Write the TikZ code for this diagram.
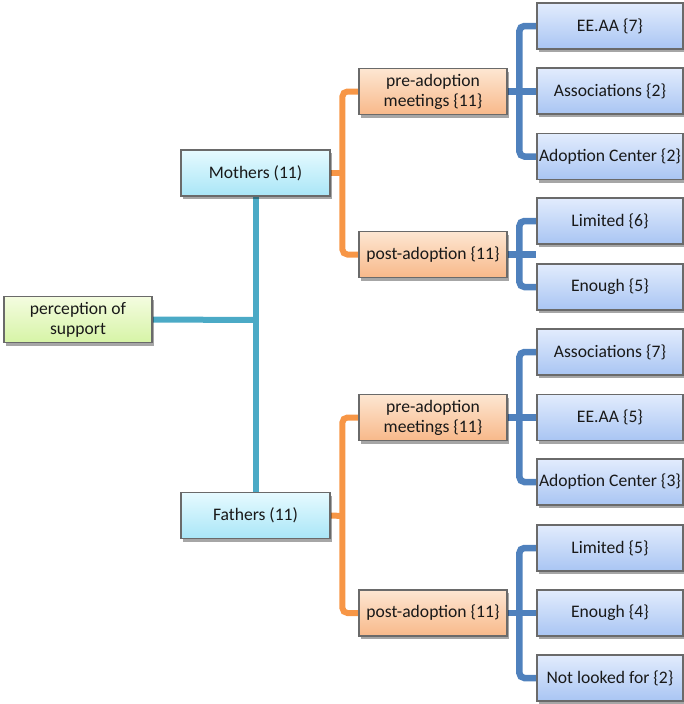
\documentclass[tikz,border=0pt]{standalone}
\usepackage{fontspec}
\setmainfont{Carlito}
\usetikzlibrary{shadows,backgrounds}
\definecolor{boxedge}{HTML}{6A6A6A}
\definecolor{tealline}{HTML}{4BAAC6}
\definecolor{orangeline}{HTML}{F79646}
\definecolor{blueline}{HTML}{4F81BD}
\definecolor{greentop}{HTML}{F4FCE0}
\definecolor{greenbot}{HTML}{D6F4A6}
\definecolor{cyantop}{HTML}{E6FAFF}
\definecolor{cyanbot}{HTML}{A9E6F7}
\definecolor{orangetop}{HTML}{FDE6D2}
\definecolor{orangebot}{HTML}{F8B98A}
\definecolor{bluetop}{HTML}{E2ECFD}
\definecolor{bluebot}{HTML}{A9C5F3}
\tikzset{
  box/.style={draw=boxedge, line width=1.2pt, minimum height=46pt,
    align=center, text=black!90, font=\fontsize{17.6}{20}\selectfont,
    inner sep=0pt,
    drop shadow={shadow xshift=2pt, shadow yshift=-3pt, opacity=0.35, fill=black}},
  rootbox/.style={box, minimum width=148pt, top color=greentop, bottom color=greenbot},
  parentbox/.style={box, minimum width=149pt, top color=cyantop, bottom color=cyanbot},
  phasebox/.style={box, minimum width=148pt, top color=orangetop, bottom color=orangebot},
  leafbox/.style={box, minimum width=146pt, top color=bluetop, bottom color=bluebot},
  tealconn/.style={draw=tealline, line width=6pt},
  orangeconn/.style={draw=orangeline, line width=6pt, rounded corners=5pt},
  blueconn/.style={draw=blueline, line width=6.5pt, rounded corners=5pt},
}
\begin{document}
\begin{tikzpicture}[x=1pt, y=-1pt]
\useasboundingbox (0,0) rectangle (684,704);

% boxes
\node[rootbox]   (root)    at (78,319.5)   {perception of\\support};
\node[parentbox] (mothers) at (255.5,173)  {Mothers (11)};
\node[parentbox] (fathers) at (255.5,515.5){Fathers (11)};

\node[phasebox] (mpre)  at (433,91.5)  {pre-adoption\\meetings \{11\}};
\node[phasebox] (mpost) at (433,254.5) {post-adoption \{11\}};
\node[phasebox] (fpre)  at (433,417.5) {pre-adoption\\meetings \{11\}};
\node[phasebox] (fpost) at (433,613)   {post-adoption \{11\}};

\node[leafbox] (m1) at (610,26)    {EE.AA \{7\}};
\node[leafbox] (m2) at (610,91)    {Associations \{2\}};
\node[leafbox] (m3) at (610,156.5) {Adoption Center \{2\}};
\node[leafbox] (m4) at (610,221)   {Limited \{6\}};
\node[leafbox] (m5) at (610,287)   {Enough \{5\}};

\node[leafbox] (f1) at (610,352)   {Associations \{7\}};
\node[leafbox] (f2) at (610,417.5) {EE.AA \{5\}};
\node[leafbox] (f3) at (610,482)   {Adoption Center \{3\}};
\node[leafbox] (f4) at (610,548)   {Limited \{5\}};
\node[leafbox] (f5) at (610,613)   {Enough \{4\}};
\node[leafbox] (f6) at (610,678)   {Not looked for \{2\}};

% free ends of the short stubs meeting the vertical trunks
\coordinate (mtrunk) at (343,173);
\coordinate (ftrunk) at (343,516);
\coordinate (rtrunk) at (255.5,320);

\begin{pgfonlayer}{background}
% root to parents
\path[tealconn] (mothers.south) -- (fathers.north);
\path[tealconn] (root.east) -- (rtrunk);

% parents to phases
\path[orangeconn] (mpre.west) -- ++(-16,0) |- (mpost.west);
\path[orangeconn] (mothers.east) -- (mtrunk);
\path[orangeconn] (fpre.west) -- ++(-16,0) |- (fpost.west);
\path[orangeconn] (fathers.east) -- (ftrunk);

% phases to answers
\path[blueconn] (m1.west) -- ++(-17,0) |- (m3.west);
\path[blueconn] (mpre.east) -- (mpre.east -| m1.west);
\path[blueconn] (m4.west) -- ++(-17,0) |- (m5.west);
\path[blueconn] (mpost.east) -- (mpost.east -| m4.west);
\path[blueconn] (f1.west) -- ++(-17,0) |- (f3.west);
\path[blueconn] (fpre.east) -- (fpre.east -| f1.west);
\path[blueconn] (f4.west) -- ++(-17,0) |- (f6.west);
\path[blueconn] (fpost.east) -- (fpost.east -| f1.west);
\end{pgfonlayer}
\end{tikzpicture}
\end{document}
